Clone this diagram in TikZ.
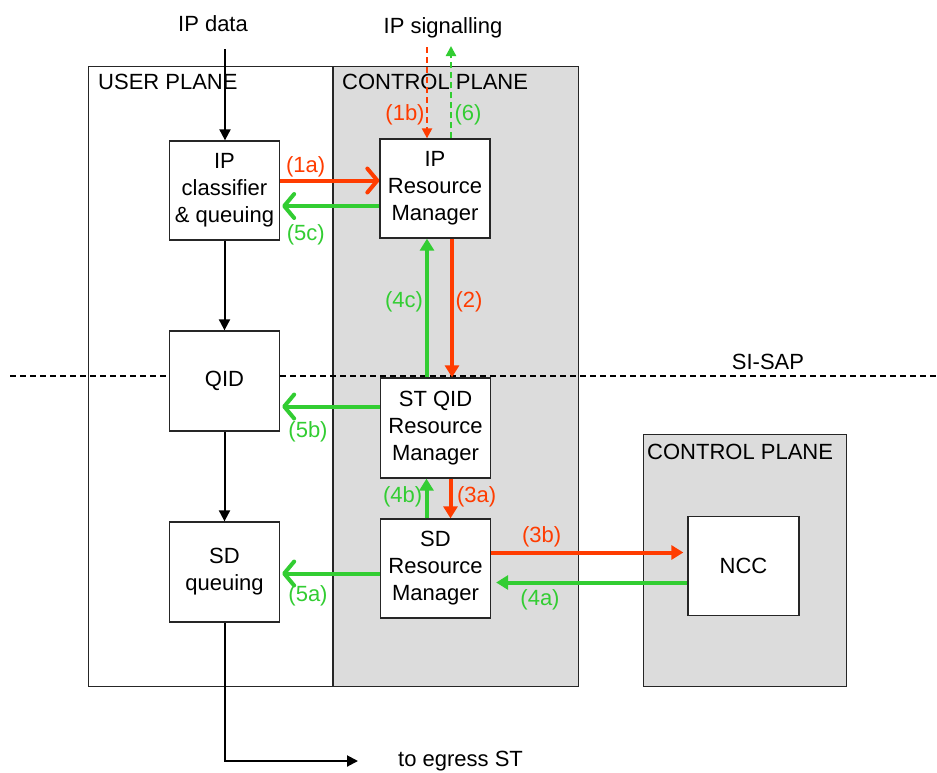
\documentclass[tikz,border=0pt]{standalone}
\usepackage{fontspec}
\setmainfont{Liberation Sans}
\usetikzlibrary{arrows.meta}
\definecolor{sigred}{RGB}{255,60,0}
\definecolor{siggreen}{RGB}{50,205,50}
\definecolor{planegray}{RGB}{220,220,220}
\begin{document}
\begin{tikzpicture}[x=1pt,y=-1pt,
  font=\fontsize{22}{27}\selectfont,
  plane/.style={draw=black!85, line width=1.3pt, anchor=north west, inner sep=0},
  box/.style={draw=black!85, fill=white, line width=1.3pt, minimum width=110pt,
    minimum height=99pt, inner sep=0, align=center},
  lbl/.style={inner sep=0},
  flow/.style={line width=2pt, -{Triangle[length=11pt,width=11pt]}},
  sig/.style={line width=4pt},
  filltip/.style={-{Triangle[length=12pt,width=14pt]}},
  barbtip/.style={-{Straight Barb[length=10pt,width=24pt,round]}},
  sigdash/.style={line width=2.2pt, dash pattern=on 6pt off 4pt,
    -{Triangle[length=10pt,width=10pt]}},
  redlbl/.style={lbl, text=sigred},
  greenlbl/.style={lbl, text=siggreen}]
\useasboundingbox[fill=white] (0,0) rectangle (937,772);

% planes
\node[plane, fill=white, minimum width=244pt, minimum height=620pt] (user) at (88,66) {};
\node[plane, fill=planegray, minimum width=245pt, minimum height=620pt] (ctrl) at (333,66) {};
\node[plane, fill=planegray, minimum width=203pt, minimum height=252pt] (ctrltwo) at (643,434) {};
\node[lbl, anchor=west] (userlbl) at (98,82) {USER PLANE};
\node[lbl, anchor=west] (ctrllbl) at (342,82) {CONTROL PLANE};
\node[lbl, anchor=west] (ctrltwolbl) at (647,452) {CONTROL PLANE};

% SI-SAP line
\coordinate (sapL) at (10,376);
\coordinate (sapR) at (937,376);
\draw[line width=1.3pt, dash pattern=on 6pt off 4pt] (sapL) -- (sapR);
\node[lbl] (sap) at (768,362) {SI-SAP};

% boxes
\node[box] (ipc) at (224.5,190.5) {IP\\classifier\\\& queuing};
\node[box] (iprm) at (435,188.5) {IP\\Resource\\Manager};
\node[box, minimum height=100pt] (qid) at (224.5,381) {QID};
\node[box, minimum height=100pt] (stqid) at (435.5,428) {ST QID\\Resource\\Manager};
\node[box, minimum height=100pt] (sdq) at (224.5,572) {SD\\queuing};
\node[box] (sdrm) at (435.5,568.5) {SD\\Resource\\Manager};
\node[box, minimum width=111pt] (ncc) at (743.5,566) {NCC};

% user plane flow
\node[lbl] (ipdata) at (213,24) {IP data};
\coordinate (ipin) at (225,49);
\draw[flow] (ipin) -- (ipin |- ipc.north);
\draw[flow] (ipc) -- (qid);
\draw[flow] (qid) -- (sdq);
\node[lbl, anchor=west] (egress) at (398,761) {to egress ST};
\draw[flow] (sdq.south) |- ([xshift=-40pt]egress.west);

% IP signalling
\node[lbl] (ipsig) at (443,28) {IP signalling};
\coordinate (sigin) at (427,47);
\coordinate (sigout) at (451,46);
\draw[sigdash, sigred] (sigin) -- (sigin |- iprm.north);
\draw[sigdash, siggreen] (sigout |- iprm.north) -- (sigout);

% horizontal signals
\draw[sig, sigred, barbtip] ([yshift=10pt]ipc.east) -- ([yshift=10pt]ipc.east -| iprm.west);
\draw[sig, siggreen, barbtip, shorten >=2pt] ([yshift=-17.5pt]iprm.west) -- ([yshift=-17.5pt]iprm.west -| ipc.east);
\draw[sig, siggreen, barbtip, shorten >=2pt] ([yshift=21.5pt]stqid.west) -- ([yshift=21.5pt]stqid.west -| qid.east);
\draw[sig, siggreen, barbtip, shorten >=2pt] ([yshift=-5pt]sdrm.west) -- ([yshift=-5pt]sdrm.west -| sdq.east);
\draw[sig, sigred, filltip, shorten >=4pt] ([yshift=16pt]sdrm.east) -- ([yshift=16pt]sdrm.east -| ncc.west);
\draw[sig, siggreen, filltip, shorten >=5pt] ([yshift=-14pt]sdrm.east -| ncc.west) -- ([yshift=-14pt]sdrm.east);

% vertical signals
\draw[sig, sigred, filltip] ([xshift=17pt]iprm.south) -- ([xshift=16.5pt]stqid.north);
\draw[sig, siggreen, filltip] ([xshift=-8.5pt]stqid.north) -- ([xshift=-8pt]iprm.south);
\draw[sig, siggreen, filltip] ([xshift=-9pt]sdrm.north) -- ([xshift=-9pt]stqid.south);
\draw[sig, sigred, filltip] ([xshift=15pt]stqid.south) -- ([xshift=15pt]sdrm.north);

% labels
\node[redlbl] (l1a) at (305.7,166.7) {(1a)};
\node[greenlbl] (l5c) at (305.7,235) {(5c)};
\node[redlbl] (l1b) at (405,115) {(1b)};
\node[greenlbl] (l6) at (468,115) {(6)};
\node[greenlbl] (l4c) at (404,302) {(4c)};
\node[redlbl] (l2) at (469,302) {(2)};
\node[greenlbl] (l5b) at (308,431.7) {(5b)};
\node[greenlbl] (l4b) at (402.7,496.7) {(4b)};
\node[redlbl] (l3a) at (476.7,496.7) {(3a)};
\node[redlbl] (l3b) at (541.7,536.7) {(3b)};
\node[greenlbl] (l4a) at (540,599.3) {(4a)};
\node[greenlbl] (l5a) at (308,596) {(5a)};
\end{tikzpicture}
\end{document}
